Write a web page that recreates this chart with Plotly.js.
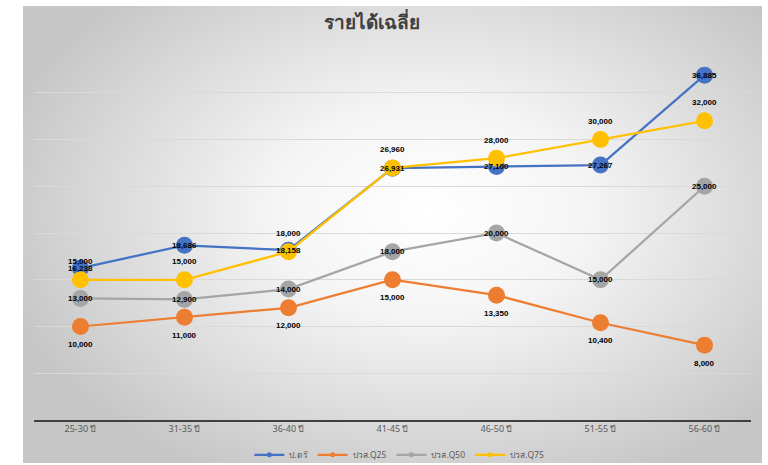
<!DOCTYPE html>
<html><head><meta charset="utf-8">
<script src="https://cdn.plot.ly/plotly-3.0.1.min.js"></script>
<style>
html,body{margin:0;padding:0;background:#fff;}
#bg{position:absolute;left:23px;top:6px;width:739px;height:457px;
background:radial-gradient(ellipse 60% 65% at 55% 45%, #ffffff 0%, #f5f5f5 35%, #dcdcdc 70%, #c6c6c6 100%);}
#chart{position:absolute;left:0;top:0;width:768px;height:465px;}
</style></head>
<body>
<div id="bg"></div>
<div id="chart"></div>
<script>
const categories = ['25-30 ปี','31-35 ปี','36-40 ปี','41-45 ปี','46-50 ปี','51-55 ปี','56-60 ปี'];
const seriesNames = ['ป.ตรี','ปวส.Q25','ปวส.Q50','ปวส.Q75'];
const bachelor = [16238, 18686, 18158, 26931, 27100, 27267, 36885];
const vocQ25 = [10000, 11000, 12000, 15000, 13350, 10400, 8000];
const vocQ50 = [13000, 12900, 14000, 18000, 20000, 15000, 25000];
const vocQ75 = [15000, 15000, 18000, 26960, 28000, 30000, 32000];

const colors = ['#4472C4','#ED7D31','#A5A5A5','#FFC000'];
const allSeries = [bachelor, vocQ25, vocQ50, vocQ75];
const labelShift = [0, -18, 0, 18];
const fontFam = '"Noto Sans", "DejaVu Sans", sans-serif';

const traces = [];
allSeries.forEach((vals, k) => {
  traces.push({
    type:'scatter', mode:'lines+markers', x:categories, y:vals,
    line:{color:colors[k], width:2.25}, marker:{color:colors[k], size:17},
    showlegend:false, hoverinfo:'skip'
  });
});
allSeries.forEach((vals, k) => {
  traces.push({
    type:'scatter', mode:'lines+markers', x:[null], y:[null], name:seriesNames[k],
    line:{color:colors[k], width:2.25}, marker:{color:colors[k], size:5},
    showlegend:true
  });
});

const annotations = [];
allSeries.forEach((vals, k) => {
  vals.forEach((v, i) => {
    annotations.push({
      x:categories[i], y:v, xref:'x', yref:'y', text:v.toLocaleString('en-US'),
      showarrow:false, yshift:labelShift[k],
      font:{family:'"Liberation Sans", Arial, sans-serif', size:8, color:'#000', weight:'bold'}
    });
  });
});

const layout = {
  width:768, height:465,
  paper_bgcolor:'rgba(0,0,0,0)', plot_bgcolor:'rgba(0,0,0,0)',
  margin:{l:34, r:17, t:46, b:45, autoexpand:false},
  title:{text:'<b>รายได้เฉลี่ย</b>', x:0.484, xanchor:'center', y:0.953, yanchor:'middle',
    font:{family:fontFam, size:19, color:'#404040'}},
  xaxis:{type:'category', showline:true, linecolor:'#404040', linewidth:1.5,
    showgrid:false, ticks:'', tickfont:{family:fontFam, size:9, color:'#595959'},
    automargin:false, fixedrange:true},
  yaxis:{range:[0,40000], dtick:5000, showticklabels:false, showline:false, zeroline:false,
    gridcolor:'#d9d9d9', gridwidth:1, automargin:false, fixedrange:true},
  legend:{orientation:'h', x:0.52, xanchor:'center', xref:'container', y:0.053, yref:'container', yanchor:'top',
    font:{family:fontFam, size:8.5, color:'#595959'}, bgcolor:'rgba(0,0,0,0)',
    itemwidth:30, tracegroupgap:0},
  annotations:annotations,
  showlegend:true
};
Plotly.newPlot('chart', traces, layout, {displayModeBar:false, staticPlot:true});
</script>
</body></html>
